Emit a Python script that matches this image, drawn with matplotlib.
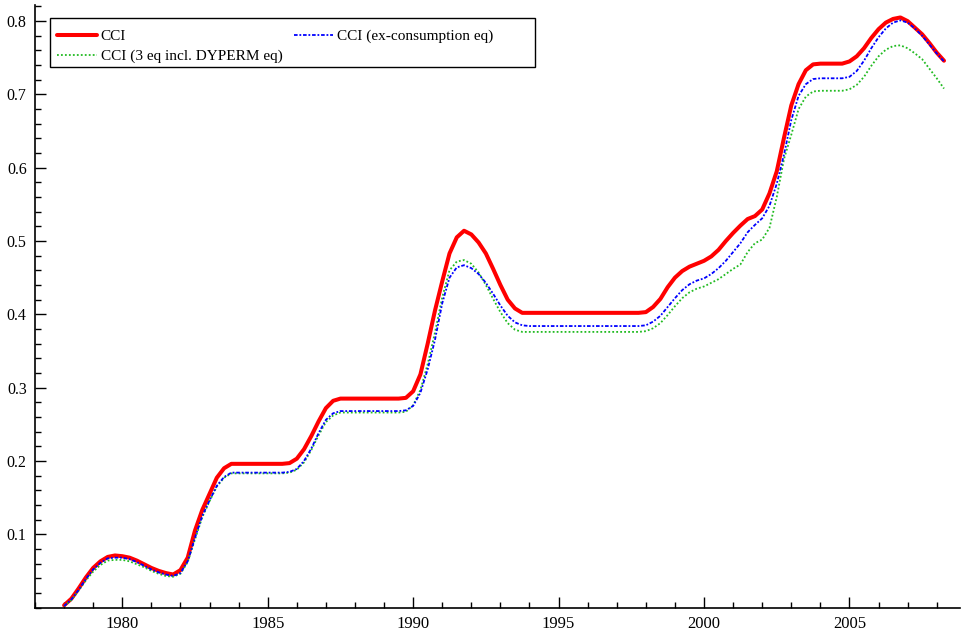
import numpy as np
import matplotlib
matplotlib.use("Agg")
from matplotlib import pyplot as plt
from matplotlib.patches import Rectangle
from matplotlib.ticker import MultipleLocator

# quarterly observations, 1978Q1 .. 2008Q2
start_year = 1978.0
cci = [
    0.003, 0.012, 0.026, 0.041,   # 1978
    0.054, 0.063, 0.069, 0.071,   # 1979
    0.070, 0.068, 0.064, 0.059,   # 1980
    0.054, 0.050, 0.047, 0.045,   # 1981
    0.051, 0.068, 0.105, 0.133,   # 1982
    0.155, 0.177, 0.190, 0.196,   # 1983
    0.196, 0.196, 0.196, 0.196,   # 1984
    0.196, 0.196, 0.196, 0.197,   # 1985
    0.203, 0.216, 0.234, 0.254,   # 1986
    0.272, 0.282, 0.285, 0.285,   # 1987
    0.285, 0.285, 0.285, 0.285,   # 1988
    0.285, 0.285, 0.285, 0.286,   # 1989
    0.295, 0.318, 0.360, 0.405,   # 1990
    0.445, 0.483, 0.505, 0.514,   # 1991
    0.509, 0.498, 0.483, 0.462,   # 1992
    0.440, 0.420, 0.408, 0.402,   # 1993
    0.402, 0.402, 0.402, 0.402,   # 1994
    0.402, 0.402, 0.402, 0.402,   # 1995
    0.402, 0.402, 0.402, 0.402,   # 1996
    0.402, 0.402, 0.402, 0.402,   # 1997
    0.403, 0.410, 0.421, 0.437,   # 1998
    0.450, 0.459, 0.465, 0.469,   # 1999
    0.473, 0.479, 0.488, 0.500,   # 2000
    0.511, 0.521, 0.530, 0.534,   # 2001
    0.543, 0.565, 0.595, 0.641,   # 2002
    0.685, 0.714, 0.733, 0.741,   # 2003
    0.742, 0.742, 0.742, 0.742,   # 2004
    0.745, 0.752, 0.763, 0.777,   # 2005
    0.789, 0.798, 0.803, 0.805,   # 2006
    0.800, 0.791, 0.782, 0.770,   # 2007
    0.757, 0.746,                 # 2008
]
cci_ex_cons = [
    0.002, 0.011, 0.024, 0.039,
    0.052, 0.061, 0.067, 0.068,
    0.068, 0.066, 0.062, 0.057,
    0.052, 0.048, 0.045, 0.043,
    0.047, 0.063, 0.095, 0.125,
    0.146, 0.166, 0.178, 0.184,
    0.184, 0.184, 0.184, 0.184,
    0.184, 0.184, 0.184, 0.185,
    0.189, 0.200, 0.217, 0.238,
    0.256, 0.265, 0.268, 0.268,
    0.268, 0.268, 0.268, 0.268,
    0.268, 0.268, 0.268, 0.269,
    0.275, 0.293, 0.325, 0.365,
    0.415, 0.450, 0.464, 0.467,
    0.463, 0.455, 0.443, 0.428,
    0.412, 0.398, 0.389, 0.385,
    0.384, 0.384, 0.384, 0.384,
    0.384, 0.384, 0.384, 0.384,
    0.384, 0.384, 0.384, 0.384,
    0.384, 0.384, 0.384, 0.384,
    0.385, 0.390, 0.398, 0.410,
    0.422, 0.433, 0.441, 0.446,
    0.449, 0.455, 0.463, 0.473,
    0.485, 0.497, 0.512, 0.522,
    0.531, 0.548, 0.578, 0.618,
    0.665, 0.698, 0.714, 0.721,
    0.722, 0.722, 0.722, 0.722,
    0.724, 0.732, 0.746, 0.763,
    0.778, 0.790, 0.798, 0.801,
    0.798, 0.790, 0.780, 0.768,
    0.756, 0.745,
]
cci_3eq = [
    0.002, 0.010, 0.023, 0.037,
    0.049, 0.058, 0.064, 0.065,
    0.065, 0.063, 0.059, 0.055,
    0.050, 0.046, 0.043, 0.042,
    0.046, 0.062, 0.093, 0.123,
    0.145, 0.165, 0.177, 0.183,
    0.183, 0.183, 0.183, 0.183,
    0.183, 0.183, 0.183, 0.184,
    0.188, 0.198, 0.215, 0.235,
    0.253, 0.262, 0.266, 0.266,
    0.266, 0.266, 0.266, 0.266,
    0.266, 0.266, 0.266, 0.267,
    0.276, 0.297, 0.332, 0.375,
    0.423, 0.460, 0.472, 0.474,
    0.469, 0.457, 0.440, 0.421,
    0.403, 0.388, 0.379, 0.376,
    0.376, 0.376, 0.376, 0.376,
    0.376, 0.376, 0.376, 0.376,
    0.376, 0.376, 0.376, 0.376,
    0.376, 0.376, 0.376, 0.376,
    0.377, 0.381, 0.388, 0.399,
    0.411, 0.422, 0.430, 0.435,
    0.438, 0.443, 0.448, 0.455,
    0.462, 0.468, 0.485, 0.497,
    0.502, 0.518, 0.560, 0.612,
    0.645, 0.680, 0.697, 0.704,
    0.705, 0.705, 0.705, 0.705,
    0.707, 0.713, 0.724, 0.739,
    0.752, 0.761, 0.766, 0.767,
    0.763, 0.756, 0.748, 0.735,
    0.722, 0.708,
]

years = start_year + 0.25 * np.arange(len(cci))

plt.rcParams['font.family'] = ['Liberation Serif', 'DejaVu Serif']

fig = plt.figure(figsize=(9.61, 6.38), dpi=100)
ax = fig.add_axes([35 / 961, 30.5 / 638, 925 / 961, 602.5 / 638])

l_red, = ax.plot(years, cci, color='#ff0000', lw=2.9, solid_capstyle='round',
                 label="CCI", zorder=2)
l_green, = ax.plot(years, cci_3eq, color='#22bb22', lw=1.3,
                   linestyle=(0, (1, 1.2)), label="CCI (3 eq incl. DYPERM eq)", zorder=3)
l_blue, = ax.plot(years, cci_ex_cons, color='#0000ff', lw=1.3,
                  linestyle=(0, (2, 1, 1, 1)), label="CCI (ex-consumption eq)", zorder=4)

ax.set_xlim(1977.0, 2008.8)
ax.set_ylim(0.0, 0.822)
ax.set_xticks([1980, 1985, 1990, 1995, 2000, 2005])
ax.set_yticks([0.1, 0.2, 0.3, 0.4, 0.5, 0.6, 0.7, 0.8])
ax.xaxis.set_minor_locator(MultipleLocator(1))
ax.yaxis.set_minor_locator(MultipleLocator(0.02))
ax.tick_params(which='both', direction='in', width=1, color='black')
ax.tick_params(axis='x', labelsize=12)
ax.tick_params(axis='y', labelsize=11.5)
ax.tick_params(which='major', length=8, pad=6)
ax.tick_params(which='minor', length=4)
ax.spines['top'].set_visible(False)
ax.spines['right'].set_visible(False)
for side in ('left', 'bottom'):
    ax.spines[side].set_linewidth(1.2)

# legend box is wider than its entries, so draw the frame separately
box = Rectangle((0.0162, 0.8971), 0.5243, 0.0813, transform=ax.transAxes,
                facecolor='white', edgecolor='black', lw=1.0, zorder=5)
ax.add_patch(box)
leg = ax.legend(handles=[l_red, l_green, l_blue], ncol=2, loc='upper left',
                bbox_to_anchor=(0.0188, 0.967), fontsize=11, frameon=False,
                handlelength=2.6, handletextpad=0.25, columnspacing=0.75,
                borderpad=0.3, labelspacing=0.42, borderaxespad=0)
leg.set_zorder(6)

fig.savefig("out.png", dpi=100)
